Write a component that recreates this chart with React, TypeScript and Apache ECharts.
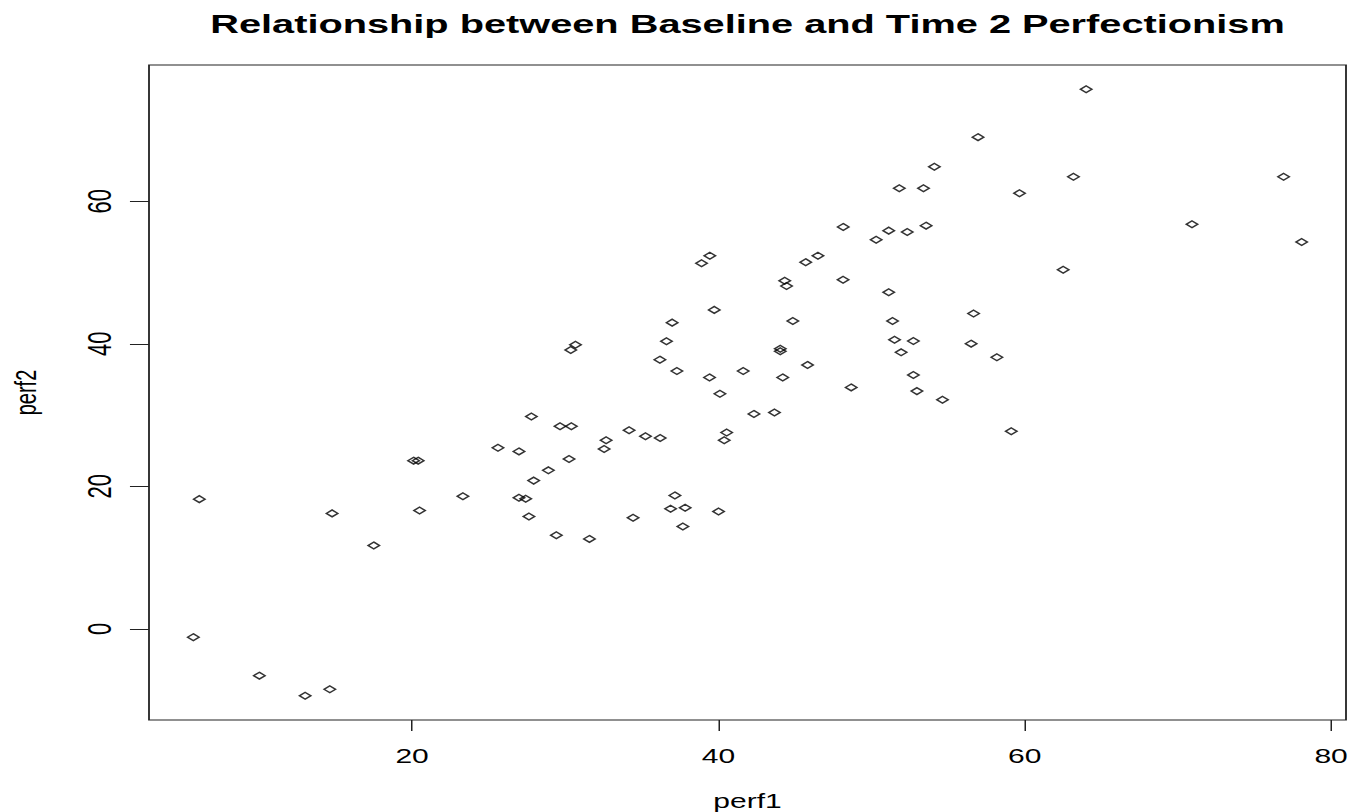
import { useEffect, useRef } from "react";
import * as echarts from "echarts";

// Baseline (perf1) and Time 2 (perf2) perfectionism scores, one entry per respondent.
const perf1 = [
  6.11, 14.78, 17.5, 20.1, 20.4, 20.49, 23.32, 25.61, 26.98, 27.79,
  27.94, 26.98, 27.42, 27.63, 5.72, 10.03, 13.02, 14.63, 50.3, 51.12,
  52.33, 39.44, 38.9, 46.5, 45.7, 44.33, 44.45, 48.14, 51.12, 39.73,
  44.86, 51.37, 36.98, 30.67, 30.36, 36.61, 44.04, 44.04, 51.5, 52.73,
  51.93, 36.18, 45.82, 37.29, 41.62, 39.42, 44.2, 52.73, 48.67, 52.96,
  40.1, 42.32, 43.66, 29.66, 30.4, 34.17, 35.24, 36.2, 32.67, 32.54,
  40.54, 40.38, 30.25, 28.9, 29.42, 31.58, 34.43, 37.16, 36.88, 37.83,
  37.68, 40.01, 64.01, 56.95, 54.1, 51.81, 53.39, 63.18, 76.9, 59.66,
  48.15, 53.56, 70.92, 78.08, 62.51, 56.66, 56.5, 58.18, 54.63, 59.12,
];
const perf2 = [
  18.2, 16.2, 11.7, 23.6, 23.6, 16.6, 18.6, 25.4, 24.9, 29.8,
  20.8, 18.4, 18.25, 15.76, -1.17, -6.57, -9.39, -8.49, 54.6, 55.88,
  55.69, 52.36, 51.3, 52.36, 51.45, 48.84, 48.1, 48.98, 47.23, 44.76,
  43.2, 43.2, 42.97, 39.87, 39.13, 40.35, 39.3, 38.95, 40.56, 40.38,
  38.8, 37.77, 37.03, 36.17, 36.17, 35.28, 35.28, 35.62, 33.88, 33.36,
  32.98, 30.16, 30.36, 28.43, 28.43, 27.87, 27.02, 26.78, 26.46, 25.24,
  27.54, 26.46, 23.83, 22.24, 13.13, 12.62, 15.58, 18.72, 16.85, 16.99,
  14.36, 16.47, 75.72, 69.0, 64.84, 61.83, 61.83, 63.43, 63.43, 61.13,
  56.4, 56.58, 56.77, 54.29, 50.39, 44.24, 40.02, 38.1, 32.14, 27.73,
];

const xTicks = [20, 40, 60, 80];
const yTicks = [0, 20, 40, 60];

const FONT = "'Liberation Sans', Arial, Helvetica, sans-serif";
// The figure is drawn on a narrower canvas and widened horizontally,
// giving the wide glyphs and flattened markers of the original device.
const STRETCH = 1.5;
const WIDTH = 1350 / STRETCH;
const HEIGHT = 812;

// Axis limits padded by 4% of the data range on each side.
function paddedRange(values: number[]): [number, number] {
  const lo = Math.min(...values);
  const hi = Math.max(...values);
  const pad = (hi - lo) * 0.04;
  return [lo - pad, hi + pad];
}

export default function App() {
  const ref = useRef<HTMLDivElement>(null);

  useEffect(() => {
    if (!ref.current) return;
    const chart = echarts.init(ref.current, null, { renderer: "svg" });
    const [xMin, xMax] = paddedRange(perf1);
    const [yMin, yMax] = paddedRange(perf2);
    const gridLeft = 149 / STRETCH;
    const gridRight = WIDTH - 1346 / STRETCH;

    chart.setOption({
      animation: false,
      backgroundColor: "#ffffff",
      title: {
        text: "Relationship between Baseline and Time 2 Perfectionism",
        left: gridLeft + (WIDTH - gridRight - gridLeft) / 2,
        textAlign: "center",
        top: 10.5,
        padding: 0,
        textStyle: {
          fontFamily: FONT,
          fontSize: 26.5,
          fontWeight: "bold",
          color: "#000",
        },
      },
      grid: {
        left: gridLeft,
        right: gridRight,
        top: 65,
        bottom: 92,
        show: true,
        borderColor: "#222",
        borderWidth: 1.2,
        backgroundColor: "transparent",
        outerBoundsMode: "none",
        containLabel: false,
      },
      xAxis: {
        type: "value",
        min: xMin,
        max: xMax,
        name: "perf1",
        nameLocation: "middle",
        nameGap: 70.5,
        nameTextStyle: { fontFamily: FONT, fontSize: 20, color: "#000" },
        axisLine: { show: false, onZero: false },
        splitLine: { show: false },
        axisTick: {
          show: true,
          length: 11,
          customValues: xTicks,
          lineStyle: { color: "#222", width: 1 },
        },
        axisLabel: {
          customValues: xTicks,
          margin: 26,
          fontFamily: FONT,
          fontSize: 20,
          color: "#000",
        },
      },
      yAxis: {
        type: "value",
        min: yMin,
        max: yMax,
        name: "perf2",
        nameLocation: "middle",
        nameGap: 72.7,
        nameTextStyle: { fontFamily: FONT, fontSize: 20, color: "#000" },
        axisLine: { show: false, onZero: false },
        splitLine: { show: false },
        axisTick: {
          show: true,
          length: 12.7,
          customValues: yTicks,
          lineStyle: { color: "#222", width: 1 },
        },
        axisLabel: {
          customValues: yTicks,
          rotate: 90,
          margin: 21.5,
          fontFamily: FONT,
          fontSize: 22,
          color: "#000",
        },
      },
      series: [
        {
          type: "scatter",
          symbol: "diamond",
          symbolSize: [7.6, 6.8],
          data: perf1.map((x, i) => [x, perf2[i]]),
          itemStyle: {
            color: "rgba(0,0,0,0)",
            borderColor: "#000",
            borderWidth: 1.3,
          },
          emphasis: { disabled: true },
        },
      ],
    });

    return () => chart.dispose();
  }, []);

  return (
    <div
      ref={ref}
      style={{
        position: "absolute",
        left: 0,
        top: 0,
        width: WIDTH,
        height: HEIGHT,
        transform: `scaleX(${STRETCH})`,
        transformOrigin: "0 0",
      }}
    />
  );
}
